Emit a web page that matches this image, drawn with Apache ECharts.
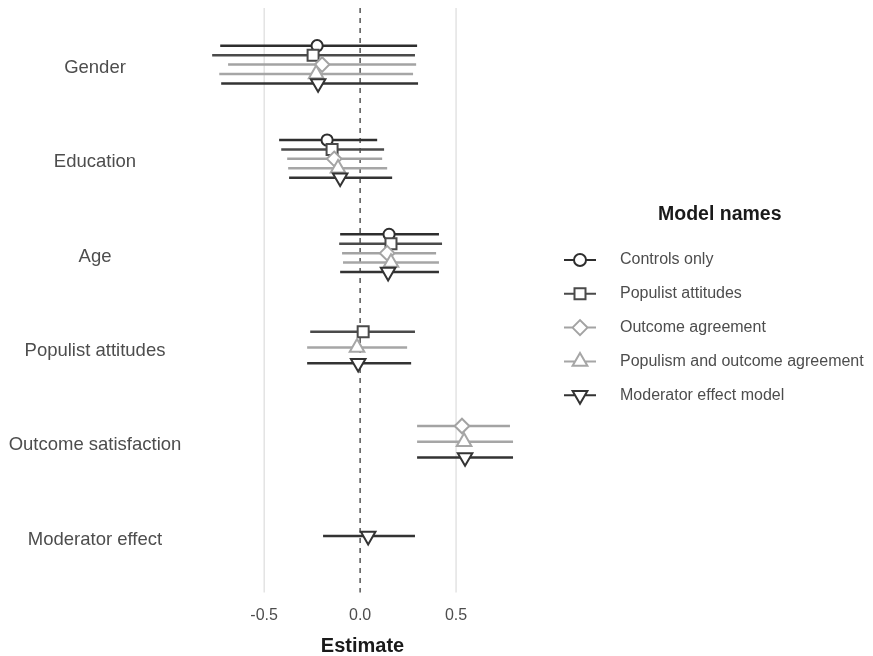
<!DOCTYPE html>
<html><head><meta charset="utf-8">
<script src="https://cdn.jsdelivr.net/npm/echarts@6/dist/echarts.min.js"></script>
<style>html,body{margin:0;padding:0;background:#fff}#c{width:873px;height:656px}</style>
</head><body><div id="c"></div>
<script>
// ---- data ----
const categories = ['Gender', 'Education', 'Age', 'Populist attitudes', 'Outcome satisfaction', 'Moderator effect'];
const models = ['Controls only', 'Populist attitudes', 'Outcome agreement', 'Populism and outcome agreement', 'Moderator effect model'];

const estControls = [-0.224, -0.172, 0.151, null, null, null];
const loControls  = [-0.729, -0.422, -0.104, null, null, null];
const hiControls  = [0.297, 0.089, 0.411, null, null, null];

const estPopulist = [-0.245, -0.146, 0.161, 0.016, null, null];
const loPopulist  = [-0.771, -0.411, -0.109, -0.260, null, null];
const hiPopulist  = [0.286, 0.125, 0.427, 0.286, null, null];

const estOutcome = [-0.198, -0.135, 0.141, null, 0.531, null];
const loOutcome  = [-0.688, -0.380, -0.094, null, 0.297, null];
const hiOutcome  = [0.292, 0.115, 0.396, null, 0.781, null];

const estBoth = [-0.229, -0.115, 0.161, -0.016, 0.542, null];
const loBoth  = [-0.734, -0.375, -0.089, -0.276, 0.297, null];
const hiBoth  = [0.276, 0.141, 0.411, 0.245, 0.797, null];

const estModerator = [-0.219, -0.104, 0.146, -0.010, 0.547, 0.042];
const loModerator  = [-0.724, -0.370, -0.104, -0.276, 0.297, -0.193];
const hiModerator  = [0.302, 0.167, 0.411, 0.266, 0.797, 0.286];

const referenceLines = [-0.5, 0.5, 0];
const xTickLabels = [-0.5, 0, 0.5];

// ---- styling ----
const FONT = 'Liberation Sans, Arial, Helvetica, sans-serif';
const colors = ['#2e2e2e', '#4a4a4a', '#a3a3a3', '#a6a6a6', '#333333'];
const shapes = ['circle', 'square', 'diamond', 'triangle', 'triangleDown'];
const icons = [
  'path://M0 0 M32 18 M0 9 L10 9 M22 9 L32 9 M10 9 A6 6 0 1 1 22 9 A6 6 0 1 1 10 9 Z',
  'path://M0 0 M32 18 M0 9 L10.5 9 M21.5 9 L32 9 M10.5 3.5 L21.5 3.5 L21.5 14.5 L10.5 14.5 Z',
  'path://M0 0 M32 18 M0 9 L8.5 9 M23.5 9 L32 9 M8.5 9 L16 1.5 L23.5 9 L16 16.5 Z',
  'path://M0 0 M32 18 M0 9 L11 9 M21 9 L32 9 M16 0.5 L23.4 13.25 L8.6 13.25 Z',
  'path://M0 0 M32 18 M0 9 L11 9 M21 9 L32 9 M8.6 4.75 L23.4 4.75 L16 17.5 Z'
];

const est = [estControls, estPopulist, estOutcome, estBoth, estModerator];
const lo = [loControls, loPopulist, loOutcome, loBoth, loModerator];
const hi = [hiControls, hiPopulist, hiOutcome, hiBoth, hiModerator];

// dodge: models present in each category share a band of width 0.5
const DODGE = 0.5;
function seriesData(m) {
  const out = [];
  categories.forEach((c, ci) => {
    if (est[m][ci] == null) return;
    const present = [];
    for (let k = 0; k < models.length; k++) if (est[k][ci] != null) present.push(k);
    const n = present.length, slot = present.indexOf(m);
    const off = (slot - (n - 1) / 2) * (DODGE / n);
    out.push([est[m][ci], lo[m][ci], hi[m][ci], ci + 1 + off]);
  });
  return out;
}

function shapeEl(kind, x, y, color) {
  const st = { fill: '#fff', stroke: color, lineWidth: 2 };
  if (kind === 'circle') return { type: 'circle', shape: { cx: x, cy: y, r: 5.6 }, style: st };
  if (kind === 'square') return { type: 'rect', shape: { x: x - 5.5, y: y - 5.5, width: 11, height: 11 }, style: st };
  if (kind === 'diamond') return { type: 'polygon', shape: { points: [[x, y - 7.3], [x + 7.3, y], [x, y + 7.3], [x - 7.3, y]] }, style: st };
  const r = 8.4, w = r * 0.866;
  if (kind === 'triangle') return { type: 'polygon', shape: { points: [[x, y - r], [x + w, y + r / 2], [x - w, y + r / 2]] }, style: st };
  return { type: 'polygon', shape: { points: [[x - w, y - r / 2], [x + w, y - r / 2], [x, y + r]] }, style: st };
}

const modelSeries = models.map((name, m) => ({
  type: 'custom',
  name: name,
  data: seriesData(m),
  encode: { x: [0, 1, 2], y: 3 },
  itemStyle: { color: colors[m] },
  z: 3,
  renderItem: function (params, api) {
    const yv = api.value(3);
    const p = api.coord([api.value(0), yv]);
    const a = api.coord([api.value(1), yv]);
    const b = api.coord([api.value(2), yv]);
    return {
      type: 'group',
      children: [
        { type: 'line', shape: { x1: a[0], y1: a[1], x2: b[0], y2: b[1] }, style: { stroke: colors[m], lineWidth: 2.5 } },
        shapeEl(shapes[m], p[0], p[1], colors[m])
      ]
    };
  }
}));

const refSeries = {
  type: 'custom',
  name: 'ref',
  silent: true,
  z: 1,
  data: referenceLines.map(v => [v, 1]),
  encode: { x: 0, y: 1 },
  renderItem: function (params, api) {
    const v = api.value(0);
    const x = api.coord([v, 1])[0];
    const cs = params.coordSys;
    const style = v === 0
      ? { stroke: '#2b2b2b', lineWidth: 1.2, lineDash: [5, 5] }
      : { stroke: '#d9d9d9', lineWidth: 1.1 };
    return { type: 'line', shape: { x1: x, y1: cs.y, x2: x, y2: cs.y + cs.height }, style: style };
  }
};

const chart = echarts.init(document.getElementById('c'), null, { renderer: 'canvas' });
chart.setOption({
  animation: false,
  backgroundColor: '#fff',
  textStyle: { fontFamily: FONT },
  title: {
    text: 'Model names',
    left: 653, top: 200,
    textStyle: { fontSize: 19.5, fontWeight: 'bold', color: '#1a1a1a', fontFamily: FONT }
  },
  legend: {
    orient: 'vertical',
    left: 558, top: 245,
    itemWidth: 32, itemHeight: 18, itemGap: 13.8,
    selectedMode: false,
    textStyle: { fontSize: 16, color: '#4d4d4d', fontFamily: FONT, padding: [0, 0, 0, 19] },
    data: models.map((m, i) => ({ name: m, icon: icons[i], itemStyle: { color: '#fff', borderColor: colors[i], borderWidth: 2 } }))
  },
  grid: { left: 197, right: 345, top: 8, bottom: 63.4, containLabel: false, outerBoundsMode: 'none' },
  xAxis: {
    type: 'value',
    min: -0.85, max: 0.875, interval: 0.05,
    axisLine: { show: false }, axisTick: { show: false }, splitLine: { show: false },
    axisLabel: {
      margin: 15, fontSize: 16, color: '#4d4d4d', fontFamily: FONT,
      formatter: function (v) {
        for (const t of xTickLabels) if (Math.abs(v - t) < 1e-6) return t.toFixed(1);
        return '';
      }
    },
    name: 'Estimate', nameLocation: 'middle', nameGap: 44,
    nameTextStyle: { fontSize: 20, fontWeight: 'bold', color: '#1a1a1a', fontFamily: FONT }
  },
  yAxis: {
    type: 'value', inverse: true,
    min: 0.4, max: 6.6, interval: 0.2,
    axisLine: { show: false }, axisTick: { show: false }, splitLine: { show: false },
    axisLabel: {
      margin: 102, align: 'center', verticalAlign: 'top', lineHeight: 7,
      fontSize: 18.5, color: '#4d4d4d', fontFamily: FONT,
      formatter: function (v) {
        const r = Math.round(v);
        return (Math.abs(v - r) < 1e-6 && r >= 1 && r <= categories.length) ? categories[r - 1] : '';
      }
    }
  },
  series: [refSeries].concat(modelSeries)
});
</script>
</body></html>
